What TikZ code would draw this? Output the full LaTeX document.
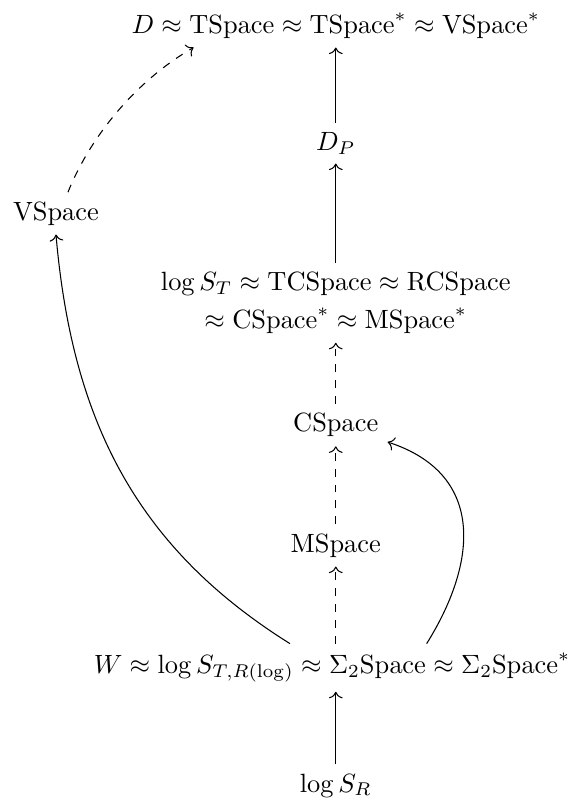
\documentclass[tikz,border=0pt]{standalone}
\usepackage{amsmath,amssymb}
\usetikzlibrary{arrows.meta,positioning,calc}

\begin{document}
\begin{tikzpicture}[lbl/.style={anchor=base},arrow/.style={->},dasharrow/.style={->,dashed}]
    \useasboundingbox (0,0) rectangle (7.61,10.65);
    \node[lbl] (top) at (4.47,10.21) {$D \approx \mathrm{TSpace} \approx \mathrm{TSpace}^* \approx \mathrm{VSpace}^*$};
    \node[lbl] (dp) at (4.47,8.65) {$D_P$};
    \node[lbl] (vspace) at (0.745,7.72) {VSpace};
    \node[align=center] (logst) at (4.47,6.62) {$\log S_T \approx \mathrm{TCSpace} \approx \mathrm{RCSpace}$\\[2.4pt]$\approx \mathrm{CSpace}^* \approx \mathrm{MSpace}^*$};
    \node[lbl] (cspace) at (4.47,4.90) {CSpace};
    \node[lbl] (mspace) at (4.47,3.30) {MSpace};
    \node[lbl] (w) at (4.42,1.69) {$W \approx \log S_{T,R(\log)} \approx \Sigma_2\mathrm{Space} \approx \Sigma_2\mathrm{Space}^*$};
    \node[lbl] (logsr) at (4.47,0.106) {$\log S_R$};
    % main column
    \draw[arrow] (logsr) -- (logsr |- w.south);
    \draw[dasharrow] (w.north -| mspace) -- (mspace);
    \draw[dasharrow] (mspace) -- (cspace);
    \draw[dasharrow] (cspace) -- (logst);
    \draw[arrow] (logst) -- (dp);
    \draw[arrow] (dp) -- (top);
    % side curves
    \draw[arrow] ($(w.north)+(-0.56,0)$) to[out=148,in=-85] (vspace.south);
    \draw[arrow] ($(w.north)+(1.26,0)$) to[out=58,in=-18,looseness=1.25] (cspace.-18);
    \draw[dasharrow] ($(vspace.north)+(0.16,0)$) to[out=68,in=-150,looseness=0.85] ($(top.south west)+(0.95,0)$);
\end{tikzpicture}
\end{document}
